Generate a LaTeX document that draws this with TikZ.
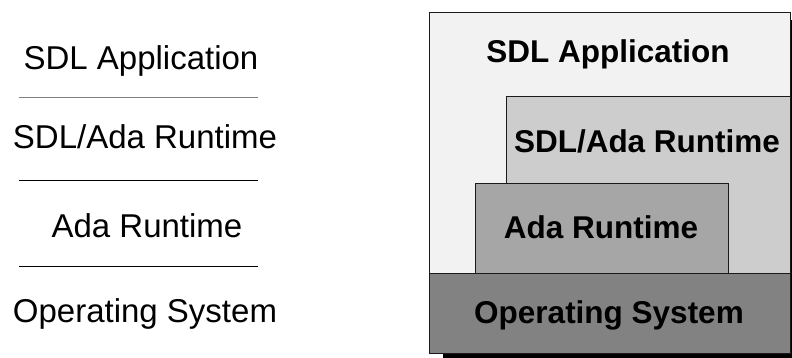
\documentclass[tikz,border=0pt]{standalone}
\usepackage{fontspec}
\setmainfont{Liberation Sans}
\definecolor{appfill}{HTML}{F2F2F2}
\definecolor{sdladafill}{HTML}{CDCDCD}
\definecolor{adafill}{HTML}{A6A6A6}
\definecolor{osfill}{HTML}{828282}
\definecolor{edge}{HTML}{1A1A1A}
\begin{document}
\begin{tikzpicture}[x=1pt,y=-1pt,
  plainlabel/.style={anchor=base,inner sep=0pt,font=\fontsize{33}{38}\selectfont},
  boldlabel/.style={anchor=base,inner sep=0pt,font=\fontsize{31.5}{38}\selectfont\bfseries},
  layer/.style={draw=edge,line width=0.9pt},
  sep/.style={line width=0.9pt}]
\useasboundingbox (0,0) rectangle (792,358);

% left column: layer names with separators
\node[plainlabel] (lapp) at (141,70) {SDL Application};
\node[plainlabel] (lsdl) at (145,149) {SDL/Ada Runtime};
\node[plainlabel] (lada) at (147,237) {Ada Runtime};
\node[plainlabel] (los)  at (145,322) {Operating System};
\draw[sep,gray] (19,97) -- (258,97);
\draw[sep,black] (19,180) -- (258,180);
\draw[sep,black] (19,266) -- (258,266);

% right column: stacked layers with drop shadow
\fill[black] (443,20) rectangle (795,357.5);
\draw[layer,fill=appfill] (429,12) rectangle (790,353);
\draw[layer,fill=sdladafill] (506,96) rectangle (790,273);
\draw[layer,fill=adafill] (475,183) rectangle (728,273);
\draw[layer,fill=osfill] (429,273) rectangle (790,353);

\node[boldlabel] (bapp) at (608,63) {SDL Application};
\node[boldlabel] (bsdl) at (647,153) {SDL/Ada Runtime};
\node[boldlabel] (bada) at (601,238) {Ada Runtime};
\node[boldlabel] (bos)  at (609,323) {Operating System};
\end{tikzpicture}
\end{document}
